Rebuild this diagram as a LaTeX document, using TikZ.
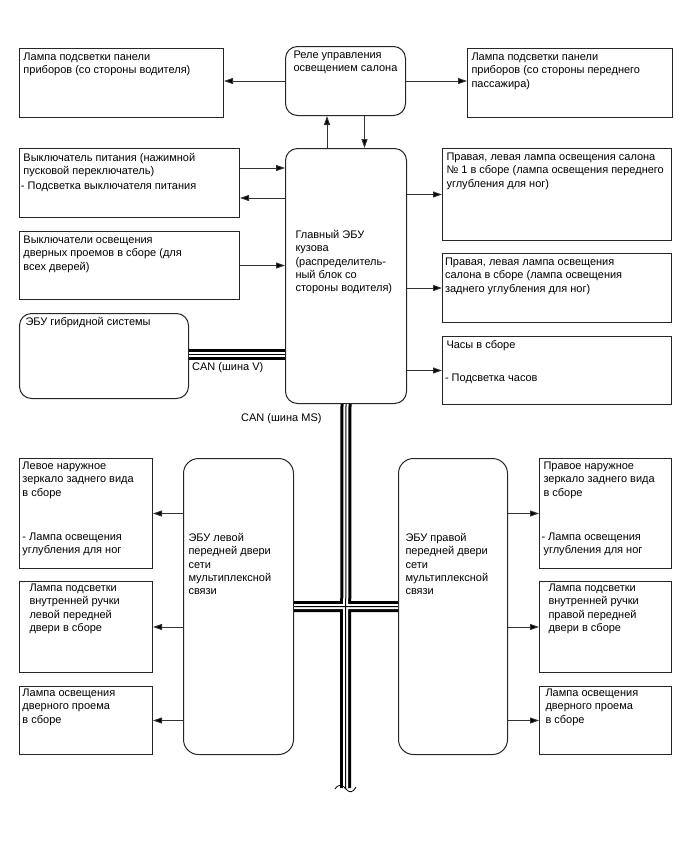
\documentclass[tikz,border=0pt]{standalone}
\usepackage{fontspec}
\setmainfont{Liberation Sans}
\usetikzlibrary{arrows.meta}

\newcommand{\cell}[5][4pt]{\parbox[t][#3][t]{#2}{\raggedright\leftskip=#1\relax\rule{0pt}{#4}#5}}

\begin{document}
\begin{tikzpicture}[x=1pt, y=-1pt,
	font=\fontsize{11pt}{13.3pt}\selectfont,
	unit/.style={draw=black!85, line width=1pt, anchor=north west, inner sep=0pt},
	ecu/.style={unit, rounded corners=12pt},
	feed/.style={draw=black!80, line width=0.9pt, -{Triangle[length=9pt, width=6pt, fill=black]}},
	bus/.style={draw=black, line width=3pt, double=white, double distance=5pt},
	busline/.style={draw=black, line width=1pt}]

\useasboundingbox (0,0) rectangle (688,852);

\node[unit] (lampL) at (19,48) {\cell{204pt}{69pt}{12pt}{Лампа подсветки панели\\приборов (со стороны водителя)}};
\node[ecu] (relay) at (285,46) {\cell[8pt]{120pt}{69pt}{12pt}{Реле управления\\освещением салона}};
\node[unit] (lampR) at (467,48) {\cell{205pt}{69pt}{12pt}{Лампа подсветки панели\\приборов (со стороны переднего\\пассажира)}};

\node[unit] (power) at (19,148) {\cell{220pt}{69pt}{12.5pt}{Выключатель питания (нажимной\\пусковой переключатель)\\[2pt]\hspace*{-2.5pt}- Подсветка выключателя питания}};
\node[unit] (doorsw) at (19,231) {\cell{220pt}{68pt}{12pt}{Выключатели освещения\\дверных проемов в сборе (для\\всех дверей)}};
\node[ecu] (hybrid) at (19,313) {\cell[6pt]{169pt}{85pt}{12pt}{ЭБУ гибридной системы}};

\node[ecu] (main) at (285,148) {\cell[10pt]{121pt}{255pt}{90pt}{Главный ЭБУ\\кузова\\(распределитель-\\ный блок со\\стороны водителя)}};

\node[unit] (int1) at (442,148) {\cell{229pt}{92pt}{12pt}{Правая, левая лампа освещения салона\\№ 1 в сборе (лампа освещения переднего\\углубления для ног)}};
\node[unit] (int2) at (442,253) {\cell[2.5pt]{229pt}{69pt}{12pt}{Правая, левая лампа освещения\\салона в сборе (лампа освещения\\заднего углубления для ног)}};
\node[unit] (clock) at (442,336) {\cell{229pt}{68pt}{12pt}{Часы в сборе\\[19.7pt]\hspace*{-1.5pt}- Подсветка часов}};

\node[ecu, rounded corners=15pt] (ecuL) at (183,458) {\cell[5pt]{110pt}{296pt}{83pt}{ЭБУ левой\\передней двери\\сети\\мультиплексной\\связи}};
\node[ecu, rounded corners=15pt] (ecuR) at (398,458) {\cell[7pt]{109pt}{296pt}{83pt}{ЭБУ правой\\передней двери\\сети\\мультиплексной\\связи}};

\node[unit] (mirL) at (19,458) {\cell[3pt]{133pt}{110pt}{11pt}{Левое наружное\\зеркало заднего вида\\в сборе\\[30.7pt]- Лампа освещения\\углубления для ног}};
\node[unit] (handL) at (19,581) {\cell[10pt]{133pt}{91pt}{10pt}{Лампа подсветки\\внутренней ручки\\левой передней\\двери в сборе}};
\node[unit] (doorL) at (19,686) {\cell[3pt]{133pt}{68pt}{10pt}{Лампа освещения\\дверного проема\\в сборе}};

\node[unit] (mirR) at (539,458) {\cell{132pt}{110pt}{11pt}{Правое наружное\\зеркало заднего вида\\в сборе\\[30.7pt]\hspace*{-2pt}- Лампа освещения\\углубления для ног}};
\node[unit] (handR) at (539,581) {\cell[9pt]{132pt}{91pt}{10pt}{Лампа подсветки\\внутренней ручки\\правой передней\\двери в сборе}};
\node[unit] (doorR) at (539,686) {\cell[6pt]{132pt}{68pt}{10pt}{Лампа освещения\\дверного проема\\в сборе}};

\node[anchor=west, inner sep=0pt] (canV) at (192,368) {CAN (шина V)};
\node[anchor=west, inner sep=0pt] (canMS) at (241,419) {CAN (шина MS)};
\coordinate (busend) at (345.5,788);

\draw[feed] (relay.west) -- (relay.west -| lampL.east);
\draw[feed] (relay.east) -- (relay.east -| lampR.west);
\draw[feed] ([xshift=-19pt]main.north) -- ([xshift=-19pt]main.north |- relay.south);
\draw[feed] ([xshift=19pt]relay.south) -- ([xshift=19pt]relay.south |- main.north);

\draw[feed] ([yshift=15pt]power.east) -- ([yshift=15pt]power.east -| main.west);
\draw[feed] ([yshift=-15pt]power.east -| main.west) -- ([yshift=-15pt]power.east);
\draw[feed] (doorsw.east) -- (doorsw.east -| main.west);

\draw[feed] (int1.west -| main.east) -- (int1.west);
\draw[feed] (int2.west -| main.east) -- (int2.west);
\draw[feed] (clock.west -| main.east) -- (clock.west);

\draw[feed] (mirL.east -| ecuL.west) -- (mirL.east);
\draw[feed] (handL.east -| ecuL.west) -- (handL.east);
\draw[feed] (doorL.east -| ecuL.west) -- (doorL.east);
\draw[feed] (mirR.west -| ecuR.east) -- (mirR.west);
\draw[feed] (handR.west -| ecuR.east) -- (handR.west);
\draw[feed] (doorR.west -| ecuR.east) -- (doorR.west);

\draw[bus] ([yshift=2pt]hybrid.east) -- ([yshift=2pt]hybrid.east -| main.west);
\draw[busline] ([yshift=2pt]hybrid.east) -- ([yshift=2pt]hybrid.east -| main.west);
\draw[bus] (main.south) -- (busend) (ecuL.east) -- (ecuR.west);
\draw[busline] (main.south) -- (busend) (ecuL.east) -- (ecuR.west);
\draw[line width=0.8pt] ([shift={(-10.5,1)}]busend) .. controls ([shift={(-6.5,-5)}]busend) and ([shift={(-2.5,-3)}]busend) .. ([shift={(0.5,1)}]busend) .. controls ([shift={(3.5,5)}]busend) and ([shift={(7.5,5)}]busend) .. ([shift={(10.5,-1)}]busend);

\end{tikzpicture}
\end{document}
